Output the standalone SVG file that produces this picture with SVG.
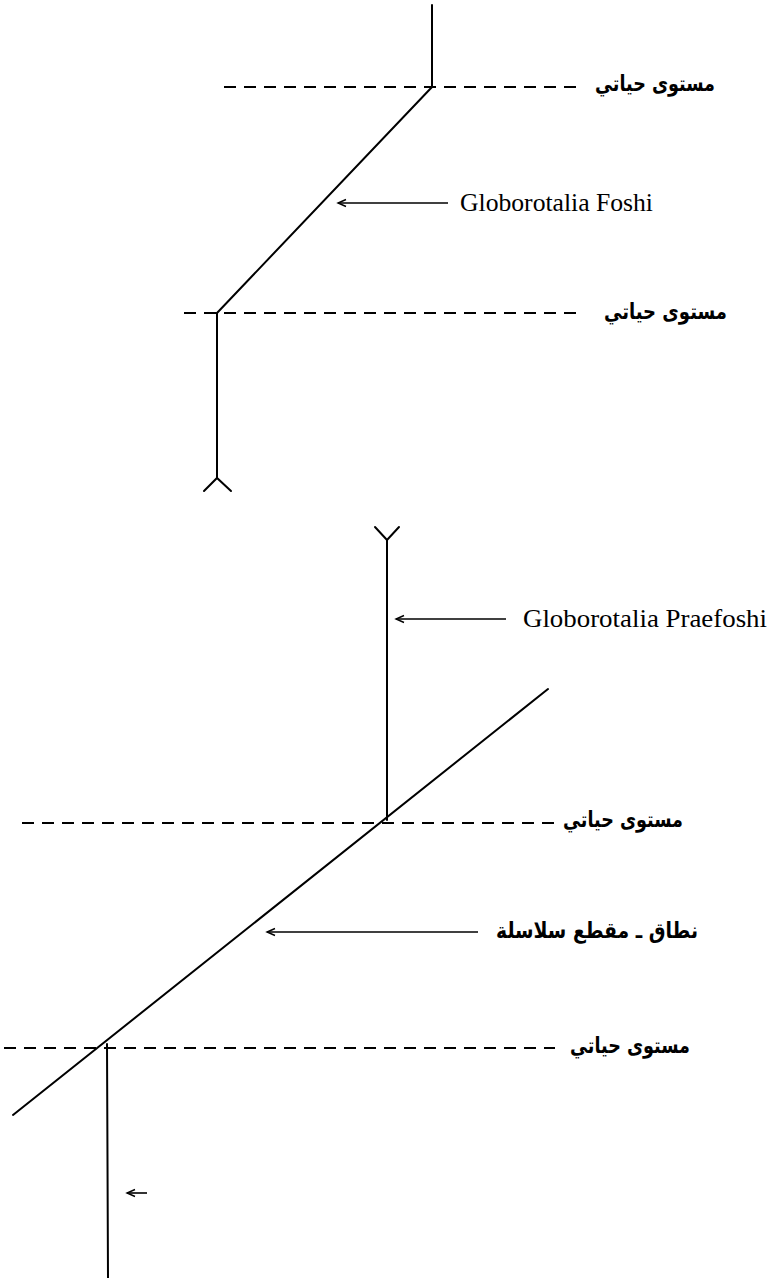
<svg xmlns="http://www.w3.org/2000/svg" width="773" height="1278" viewBox="0 0 773 1278">
<style>
.ln{stroke:#000;stroke-width:2;fill:none;stroke-linecap:round}
.ds{stroke:#000;stroke-width:2;fill:none;stroke-dasharray:12 8}
.ar{stroke:#000;stroke-width:1.6;fill:none}
.en{font-family:"Liberation Serif",serif;font-size:26px;fill:#000}
.ab{font-family:"DejaVu Sans",sans-serif;font-size:22px;font-weight:bold;fill:#000}
</style>
<defs>
<marker id="ah" markerWidth="12" markerHeight="10" refX="0" refY="0" orient="auto" markerUnits="userSpaceOnUse" overflow="visible">
<path d="M-8,-3.5 L0,0 L-8,3.5" fill="none" stroke="#000" stroke-width="1.4"/>
</marker>
</defs>
<rect width="773" height="1278" fill="#fff"/>
<g id="connectors">
<line class="ln" x1="432" y1="5" x2="432" y2="87"/>
<line class="ln" x1="432" y1="87" x2="217" y2="313"/>
<line class="ln" x1="217" y1="313" x2="217" y2="478"/>
<polyline class="ln" points="204,491 217,478 231,491"/>
<line class="ds" x1="224" y1="87" x2="577" y2="87"/>
<line class="ds" x1="184" y1="313" x2="581" y2="313"/>
<line class="ar" x1="448" y1="203" x2="338" y2="203" marker-end="url(#ah)"/>
<polyline class="ln" points="375,527 387,540 399,527"/>
<line class="ln" x1="387" y1="540" x2="387" y2="820"/>
<line class="ar" x1="506" y1="619" x2="396" y2="619" marker-end="url(#ah)"/>
<line class="ln" x1="548" y1="689" x2="13" y2="1115"/>
<line class="ds" x1="22" y1="823" x2="560" y2="823"/>
<line class="ar" x1="478" y1="932" x2="267" y2="932" marker-end="url(#ah)"/>
<line class="ds" x1="4" y1="1048" x2="555" y2="1048"/>
<line class="ln" x1="107" y1="1044" x2="108" y2="1278"/>
<line class="ar" x1="147" y1="1193" x2="127" y2="1193" marker-end="url(#ah)"/>
</g>
<g id="level1"><text class="ab" x="595" y="91" textLength="120" lengthAdjust="spacingAndGlyphs">مستوى حياتي</text></g>
<g id="foshi"><text class="en" x="460" y="211" textLength="193" lengthAdjust="spacingAndGlyphs">Globorotalia Foshi</text></g>
<g id="level2"><text class="ab" x="604" y="319" textLength="123" lengthAdjust="spacingAndGlyphs">مستوى حياتي</text></g>
<g id="praefoshi"><text class="en" x="523" y="627" textLength="244" lengthAdjust="spacingAndGlyphs">Globorotalia Praefoshi</text></g>
<g id="level3"><text class="ab" x="563" y="827" textLength="120" lengthAdjust="spacingAndGlyphs">مستوى حياتي</text></g>
<g id="zone"><text class="ab" x="496" y="938" textLength="202" lengthAdjust="spacingAndGlyphs">نطاق ـ مقطع سلاسلة</text></g>
<g id="level4"><text class="ab" x="570" y="1053" textLength="120" lengthAdjust="spacingAndGlyphs">مستوى حياتي</text></g>
</svg>
